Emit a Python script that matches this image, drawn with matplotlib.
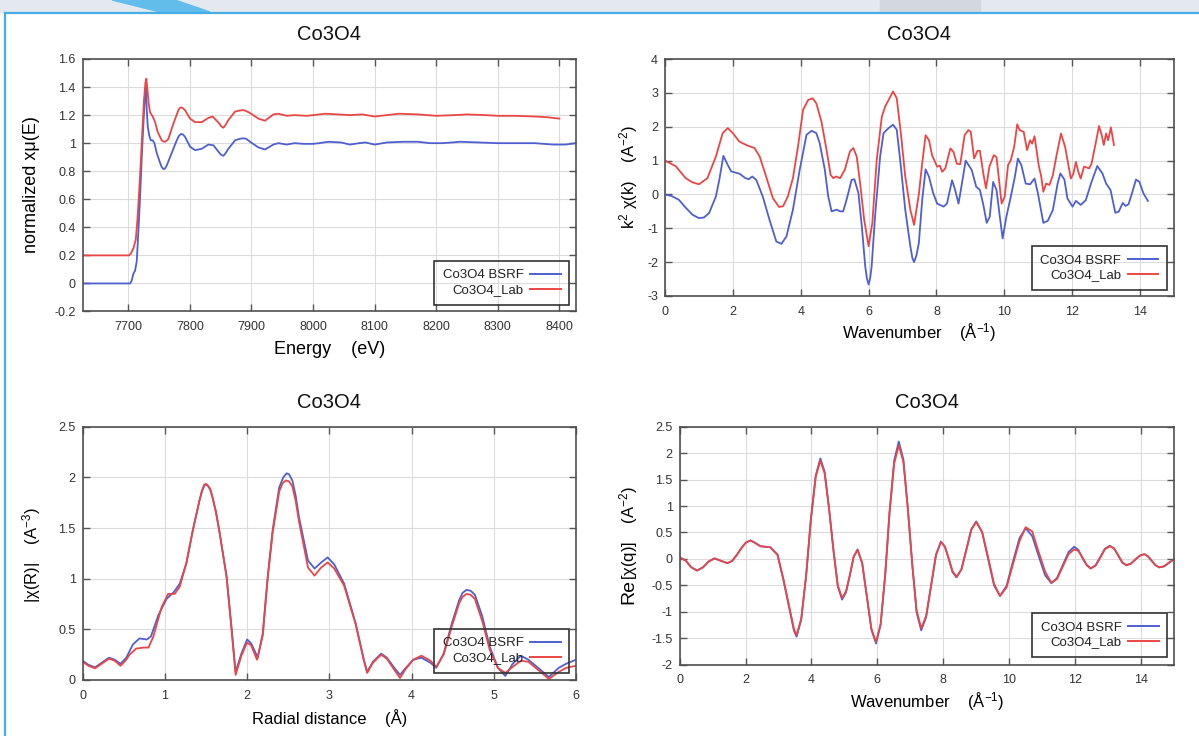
import matplotlib
matplotlib.use('Agg')
import matplotlib.pyplot as plt
from matplotlib.patches import Rectangle, Polygon
from matplotlib.lines import Line2D
from matplotlib.ticker import FuncFormatter

# ---------------- normalized mu(E), XANES ----------------
energy_bsrf = [7626, 7680, 7703, 7705.6, 7708.3, 7711, 7713.8, 7716.5, 7719.2, 7721.9,
               7724.6, 7726.7, 7728.4, 7730, 7731.6, 7733.8, 7736.5, 7739.7, 7742.4, 7746.2,
               7751.6, 7754.3, 7757, 7759.7, 7762.4, 7770.5, 7778.7, 7782, 7785.2, 7788.5,
               7792.2, 7800.3, 7808.4, 7819.3, 7830, 7838.2, 7849, 7851.5, 7854.4, 7857.5,
               7862.5, 7873.4, 7880, 7886.9, 7892, 7897.7, 7911.2, 7922, 7935.6, 7943.7,
               7957.3, 7970, 7985, 8000, 8010, 8025, 8045, 8060, 8075, 8085,
               8100, 8120, 8145, 8170, 8190, 8210, 8240, 8270, 8300, 8330,
               8360, 8390, 8410, 8427]
mu_bsrf = [0.0, 0.0, 0.0, 0.02, 0.07, 0.09, 0.16, 0.38, 0.62, 0.90,
           1.14, 1.31, 1.40, 1.24, 1.12, 1.06, 1.02, 1.02, 1.00, 0.93,
           0.86, 0.83, 0.815, 0.82, 0.84, 0.93, 1.02, 1.05, 1.065, 1.063,
           1.045, 0.975, 0.95, 0.96, 0.99, 0.985, 0.925, 0.915, 0.91, 0.925,
           0.96, 1.02, 1.03, 1.035, 1.03, 1.01, 0.97, 0.955, 0.99, 1.0,
           0.99, 1.0, 0.995, 0.995, 1.0, 1.01, 1.005, 0.99, 1.0, 1.005,
           0.99, 1.005, 1.01, 1.01, 1.0, 1.0, 1.01, 1.005, 1.0, 1.0,
           1.0, 0.99, 0.99, 1.0]

energy_lab = [7626, 7680, 7698, 7701, 7703.8, 7708.3, 7712.1, 7714.8, 7717.5, 7720.2,
              7722.9, 7725.6, 7727.8, 7729.4, 7731.1, 7733.2, 7735.4, 7739.7, 7743.5, 7747.8,
              7754.3, 7757, 7759.7, 7762.4, 7765.1, 7773.3, 7781.4, 7783.5, 7785.7, 7788.5,
              7792.2, 7800.3, 7808.4, 7819.3, 7830, 7837, 7847.9, 7851, 7854.4, 7858,
              7862.5, 7873.4, 7880, 7886.9, 7892, 7897.7, 7911.2, 7922, 7935.6, 7943.7,
              7957.3, 7970, 7990, 8000, 8020, 8040, 8060, 8080, 8100, 8120,
              8140, 8170, 8200, 8230, 8250, 8280, 8300, 8330, 8360, 8380,
              8400]
mu_lab = [0.2, 0.2, 0.2, 0.2, 0.21, 0.25, 0.31, 0.45, 0.64, 0.855,
          1.09, 1.31, 1.43, 1.46, 1.38, 1.28, 1.22, 1.19, 1.15, 1.08,
          1.02, 1.012, 1.01, 1.018, 1.03, 1.14, 1.235, 1.25, 1.255, 1.25,
          1.235, 1.175, 1.15, 1.15, 1.18, 1.19, 1.14, 1.12, 1.11, 1.13,
          1.165, 1.225, 1.232, 1.236, 1.228, 1.215, 1.175, 1.16, 1.205, 1.21,
          1.195, 1.20, 1.195, 1.20, 1.21, 1.205, 1.20, 1.205, 1.19, 1.20,
          1.21, 1.205, 1.195, 1.20, 1.205, 1.20, 1.195, 1.195, 1.19, 1.185,
          1.175]

# ---------------- k^2 chi(k) ----------------
k_bsrf = [0, 0.2, 0.41, 0.6, 0.81, 1.0, 1.15, 1.3, 1.5, 1.6,
          1.72, 1.85, 1.95, 2.2, 2.37, 2.47, 2.57, 2.69, 2.88, 3.08,
          3.28, 3.43, 3.58, 3.77, 3.97, 4.17, 4.32, 4.46, 4.56, 4.71,
          4.81, 4.91, 5.06, 5.16, 5.25, 5.35, 5.5, 5.58, 5.7, 5.8,
          5.9, 5.95, 6.0, 6.05, 6.09, 6.19, 6.34, 6.44, 6.59, 6.72,
          6.83, 6.93, 7.08, 7.23, 7.29, 7.34, 7.41, 7.48, 7.58, 7.68,
          7.78, 7.9, 8.02, 8.21, 8.31, 8.46, 8.55, 8.65, 8.75, 8.86,
          9.04, 9.17, 9.28, 9.38, 9.48, 9.57, 9.67, 9.77, 9.86, 9.95,
          10.06, 10.19, 10.31, 10.4, 10.5, 10.63, 10.76, 10.89, 10.99, 11.15,
          11.28, 11.43, 11.57, 11.65, 11.77, 11.86, 12.01, 12.11, 12.25, 12.4,
          12.57, 12.74, 12.89, 13.0, 13.13, 13.27, 13.37, 13.49, 13.57, 13.66,
          13.76, 13.88, 13.98, 14.1, 14.23]
chik_bsrf = [0, -0.05, -0.16, -0.38, -0.6, -0.70, -0.68, -0.55, -0.06, 0.43,
             1.14, 0.87, 0.68, 0.61, 0.48, 0.45, 0.53, 0.43, -0.06, -0.75,
             -1.39, -1.46, -1.24, -0.45, 0.73, 1.76, 1.88, 1.81, 1.51, 0.73,
             -0.06, -0.5, -0.45, -0.5, -0.5, -0.16, 0.43, 0.45, 0.04, -0.94,
             -2.12, -2.48, -2.66, -2.45, -2.12, -0.65, 1.12, 1.81, 1.96, 2.06,
             1.91, 1.02, -0.45, -1.53, -1.88, -2.0, -1.8, -1.44, -0.16, 0.74,
             0.52, 0.05, -0.27, -0.36, -0.27, 0.42, 0.13, -0.27, 0.32, 1.0,
             0.72, 0.23, 0.13, -0.3, -0.84, -0.66, 0.37, 0.13, -0.6, -1.30,
             -0.66, -0.07, 0.52, 1.06, 0.87, 0.32, 0.30, 0.47, 0.03, -0.84,
             -0.78, -0.46, 0.32, 0.62, 0.44, -0.12, -0.36, -0.19, -0.31, -0.17,
             0.37, 0.84, 0.62, 0.32, 0.13, -0.54, -0.51, -0.25, -0.34, -0.29,
             0.03, 0.44, 0.37, 0.03, -0.19]

k_lab = [0, 0.32, 0.61, 0.8, 1.0, 1.25, 1.5, 1.7, 1.85, 2.0,
         2.19, 2.44, 2.64, 2.79, 2.98, 3.18, 3.36, 3.48, 3.62, 3.77,
         3.92, 4.07, 4.22, 4.35, 4.46, 4.61, 4.76, 4.88, 4.96, 5.04,
         5.16, 5.3, 5.45, 5.55, 5.65, 5.75, 5.87, 6.0, 6.11, 6.24,
         6.39, 6.49, 6.59, 6.72, 6.83, 6.95, 7.08, 7.23, 7.34, 7.48,
         7.58, 7.68, 7.78, 7.87, 8.02, 8.1, 8.17, 8.26, 8.41, 8.5,
         8.6, 8.7, 8.83, 8.94, 9.01, 9.11, 9.21, 9.28, 9.38, 9.46,
         9.56, 9.69, 9.77, 9.92, 10.01, 10.11, 10.19, 10.29, 10.38, 10.45,
         10.57, 10.67, 10.76, 10.82, 10.89, 11.02, 11.08, 11.15, 11.23, 11.33,
         11.43, 11.54, 11.67, 11.79, 11.88, 11.96, 12.03, 12.11, 12.18, 12.25,
         12.35, 12.5, 12.57, 12.69, 12.79, 12.87, 12.93, 13.0, 13.06, 13.14,
         13.23]
chik_lab = [1.0, 0.83, 0.48, 0.36, 0.30, 0.48, 1.12, 1.81, 1.96, 1.81,
            1.56, 1.44, 1.37, 1.12, 0.53, -0.11, -0.37, -0.35, -0.06, 0.48,
            1.42, 2.5, 2.79, 2.84, 2.69, 2.15, 1.32, 0.58, 0.48, 0.53,
            0.48, 0.73, 1.27, 1.37, 1.12, 0.33, -0.75, -1.53, -0.84, 1.02,
            2.3, 2.6, 2.79, 3.04, 2.84, 1.81, 0.53, -0.45, -0.90, 0.0,
            0.92, 1.75, 1.6, 1.16, 0.82, 0.85, 0.67, 0.77, 1.36, 1.26,
            0.91, 0.89, 1.75, 1.90, 1.85, 1.06, 1.29, 1.29, 0.62, 0.18,
            0.82, 1.16, 1.10, -0.27, -0.07, 0.87, 1.01, 1.41, 2.07, 1.90,
            1.85, 1.31, 1.60, 1.50, 1.72, 0.82, 0.57, 0.08, 0.32, 0.28,
            0.57, 1.16, 1.80, 1.41, 0.91, 0.47, 0.60, 0.96, 0.67, 0.47,
            0.82, 0.77, 0.91, 1.50, 2.02, 1.75, 1.46, 1.80, 1.60, 1.98,
            1.46]

# ---------------- |chi(R)| ----------------
r_bsrf = [0, 0.07, 0.15, 0.23, 0.32, 0.39, 0.46, 0.53, 0.61, 0.69,
          0.78, 0.83, 0.92, 1.02, 1.11, 1.18, 1.26, 1.34, 1.42, 1.45,
          1.48, 1.50, 1.52, 1.55, 1.58, 1.62, 1.66, 1.75, 1.81, 1.86,
          1.93, 2.0, 2.05, 2.13, 2.19, 2.25, 2.31, 2.39, 2.44, 2.48,
          2.51, 2.55, 2.59, 2.63, 2.74, 2.82, 2.9, 2.98, 3.06, 3.18,
          3.32, 3.42, 3.46, 3.53, 3.63, 3.70, 3.79, 3.86, 3.93, 4.02,
          4.12, 4.23, 4.30, 4.39, 4.49, 4.58, 4.62, 4.67, 4.72, 4.77,
          4.86, 4.95, 5.05, 5.14, 5.23, 5.33, 5.42, 5.54, 5.67, 5.79,
          5.88, 6.0]
chir_bsrf = [0.19, 0.15, 0.125, 0.17, 0.22, 0.20, 0.16, 0.22, 0.35, 0.41,
             0.40, 0.43, 0.64, 0.80, 0.87, 0.95, 1.15, 1.48, 1.77, 1.86,
             1.92, 1.93, 1.92, 1.88, 1.80, 1.66, 1.48, 1.02, 0.52, 0.08,
             0.26, 0.40, 0.36, 0.22, 0.46, 1.02, 1.48, 1.90, 2.00, 2.04,
             2.03, 1.97, 1.82, 1.61, 1.18, 1.10, 1.16, 1.21, 1.14, 0.95,
             0.56, 0.20, 0.08, 0.18, 0.26, 0.22, 0.12, 0.05, 0.12, 0.20,
             0.22, 0.17, 0.12, 0.26, 0.56, 0.79, 0.86, 0.89, 0.88, 0.84,
             0.63, 0.33, 0.12, 0.04, 0.16, 0.24, 0.20, 0.12, 0.03, 0.12,
             0.16, 0.20]

r_lab = [0, 0.07, 0.15, 0.23, 0.32, 0.39, 0.46, 0.53, 0.57, 0.65,
         0.74, 0.80, 0.86, 0.96, 1.04, 1.12, 1.18, 1.26, 1.34, 1.42,
         1.45, 1.48, 1.50, 1.52, 1.55, 1.58, 1.62, 1.66, 1.75, 1.81,
         1.86, 1.93, 2.0, 2.05, 2.12, 2.19, 2.25, 2.31, 2.39, 2.43,
         2.47, 2.51, 2.55, 2.59, 2.63, 2.74, 2.82, 2.9, 2.98, 3.06,
         3.18, 3.32, 3.42, 3.46, 3.53, 3.63, 3.70, 3.79, 3.86, 3.93,
         4.02, 4.12, 4.23, 4.30, 4.39, 4.49, 4.58, 4.62, 4.67, 4.72,
         4.77, 4.86, 4.95, 5.05, 5.14, 5.23, 5.33, 5.42, 5.54, 5.67,
         5.79, 5.88, 6.0]
chir_lab = [0.18, 0.14, 0.115, 0.16, 0.21, 0.19, 0.14, 0.20, 0.25, 0.31,
            0.32, 0.32, 0.43, 0.72, 0.85, 0.85, 0.92, 1.15, 1.48, 1.77,
            1.87, 1.93, 1.935, 1.92, 1.89, 1.80, 1.66, 1.48, 1.02, 0.50,
            0.05, 0.24, 0.37, 0.34, 0.20, 0.44, 1.0, 1.45, 1.86, 1.94,
            1.97, 1.96, 1.91, 1.77, 1.57, 1.11, 1.03, 1.11, 1.16, 1.10,
            0.93, 0.55, 0.19, 0.07, 0.17, 0.25, 0.21, 0.10, 0.02, 0.11,
            0.20, 0.24, 0.19, 0.13, 0.25, 0.53, 0.76, 0.82, 0.85, 0.84,
            0.80, 0.58, 0.30, 0.12, 0.07, 0.13, 0.19, 0.18, 0.10, 0.01,
            0.08, 0.12, 0.14]

# ---------------- Re[chi(q)] ----------------
q_grid = [0, 0.18, 0.36, 0.53, 0.71, 0.88, 1.06, 1.25, 1.45, 1.59,
          1.73, 1.87, 2.01, 2.15, 2.3, 2.45, 2.6, 2.75, 2.97, 3.15,
          3.38, 3.47, 3.55, 3.69, 3.84, 3.98, 4.13, 4.27, 4.40, 4.53,
          4.67, 4.80, 4.93, 5.05, 5.17, 5.28, 5.40, 5.54, 5.68, 5.82,
          5.96, 6.10, 6.24, 6.37, 6.51, 6.65, 6.79, 6.92, 7.06, 7.19,
          7.33, 7.48, 7.63, 7.78, 7.93, 8.05, 8.17, 8.28, 8.40, 8.55,
          8.70, 8.85, 9.0, 9.18, 9.36, 9.54, 9.72, 9.92, 10.11, 10.31,
          10.5, 10.7, 10.89, 11.09, 11.28, 11.45, 11.63, 11.8, 11.97, 12.1,
          12.22, 12.35, 12.47, 12.62, 12.76, 12.9, 13.05, 13.18, 13.3, 13.43,
          13.55, 13.69, 13.83, 13.96, 14.1, 14.21, 14.33, 14.44, 14.55, 14.7,
          14.85, 15.0]
chiq_bsrf = [0.03, -0.03, -0.16, -0.22, -0.16, -0.05, 0.01, -0.035, -0.08, -0.04,
             0.07, 0.20, 0.31, 0.35, 0.30, 0.24, 0.23, 0.22, 0.08, -0.40,
             -1.09, -1.36, -1.47, -1.15, -0.31, 0.74, 1.58, 1.90, 1.65, 0.98,
             0.15, -0.52, -0.77, -0.63, -0.30, 0.04, 0.18, -0.08, -0.71, -1.34,
             -1.60, -1.24, -0.28, 0.90, 1.86, 2.22, 1.88, 0.99, -0.12, -1.01,
             -1.35, -1.10, -0.51, 0.08, 0.33, 0.23, -0.01, -0.25, -0.35, -0.20,
             0.18, 0.56, 0.71, 0.50, 0.0, -0.50, -0.70, -0.51, -0.06, 0.39,
             0.58, 0.43, 0.06, -0.31, -0.46, -0.36, -0.11, 0.13, 0.23, 0.17,
             0.02, -0.12, -0.18, -0.12, 0.03, 0.19, 0.25, 0.20, 0.07, -0.07,
             -0.12, -0.09, -0.01, 0.06, 0.09, 0.05, -0.04, -0.12, -0.16, -0.14,
             -0.07, -0.01]
chiq_lab = [0.03, -0.03, -0.16, -0.22, -0.16, -0.05, 0.01, -0.035, -0.08, -0.04,
            0.07, 0.20, 0.31, 0.35, 0.30, 0.24, 0.23, 0.22, 0.08, -0.38,
            -1.06, -1.33, -1.44, -1.13, -0.31, 0.72, 1.55, 1.86, 1.62, 0.97,
            0.16, -0.50, -0.74, -0.61, -0.29, 0.04, 0.17, -0.08, -0.70, -1.32,
            -1.57, -1.23, -0.29, 0.86, 1.80, 2.15, 1.83, 0.98, -0.10, -0.97,
            -1.31, -1.08, -0.50, 0.08, 0.32, 0.23, 0.0, -0.23, -0.34, -0.20,
            0.17, 0.55, 0.70, 0.51, 0.03, -0.47, -0.70, -0.54, -0.11, 0.33,
            0.60, 0.52, 0.14, -0.24, -0.45, -0.38, -0.14, 0.09, 0.18, 0.15,
            0.03, -0.11, -0.18, -0.13, 0.02, 0.18, 0.24, 0.20, 0.08, -0.06,
            -0.12, -0.09, -0.01, 0.06, 0.09, 0.05, -0.04, -0.12, -0.16, -0.14,
            -0.07, -0.01]

series_names = ['Co3O4 BSRF', 'Co3O4_Lab']
title = 'Co3O4'

W, H = 1199, 736
BLUE = '#4f5fd2'
RED = '#ea4646'


def fig_xy(x, y):
    # pixel position (from top left) -> figure fraction
    return x / W, 1 - y / H


def add_axes_px(fig, left, top, right, bottom):
    return fig.add_axes([left / W, 1 - bottom / H, (right - left) / W, (bottom - top) / H])


def style(ax, xlim, ylim, xticks, yticks):
    ax.set_xlim(*xlim)
    ax.set_ylim(*ylim)
    ax.set_xticks(xticks)
    ax.set_yticks(yticks)
    fmt = FuncFormatter(lambda v, p: f'{round(v, 6) + 0:g}')
    ax.xaxis.set_major_formatter(fmt)
    ax.yaxis.set_major_formatter(fmt)
    ax.tick_params(direction='in', length=5, width=1.0, color='#555555',
                   labelsize=9, labelcolor='#333333', top=True, right=True)
    ax.tick_params(axis='x', pad=7)
    ax.tick_params(axis='y', pad=5)
    ax.grid(True, color='#dcdcdc', linewidth=0.8)
    ax.set_axisbelow(True)
    for s in ax.spines.values():
        s.set_color('#505050')
        s.set_linewidth(1.2)
    ax.set_title(title, fontsize=14.5, pad=13.5, color='#111111')


def add_legend(ax, anchor):
    handles = [Line2D([], [], color=BLUE, lw=1.4), Line2D([], [], color=RED, lw=1.4)]
    leg = ax.legend(handles, series_names, loc='lower right', bbox_to_anchor=anchor,
                    borderaxespad=0, markerfirst=False, fancybox=False,
                    facecolor='none', edgecolor='#333333', framealpha=1,
                    fontsize=9.5, handlelength=2.3, handletextpad=0.5,
                    labelspacing=0.2, borderpad=0.65)
    leg.get_frame().set_linewidth(1.2)
    for t in leg.get_texts():
        t.set_color('#222222')


def make_plot():
    plt.rcParams['font.family'] = ['Liberation Sans', 'DejaVu Sans']
    plt.rcParams['mathtext.fontset'] = 'custom'
    plt.rcParams['mathtext.rm'] = 'Liberation Sans'
    plt.rcParams['mathtext.it'] = 'Liberation Sans:italic'
    plt.rcParams['mathtext.bf'] = 'Liberation Sans:bold'
    plt.rcParams['axes.unicode_minus'] = False

    fig = plt.figure(figsize=(W / 100, H / 100), dpi=100)
    fig.patch.set_facecolor('white')

    # slide decoration: top strip and thin blue frame lines
    fig.add_artist(Rectangle((0, 1 - 12 / H), 1, 12 / H, transform=fig.transFigure,
                             color='#e3e9ee', zorder=0))
    fig.add_artist(Rectangle((880 / W, 1 - 12 / H), 100 / W, 12 / H, transform=fig.transFigure,
                             color='#d2d8dd', zorder=0))
    fig.add_artist(Polygon([fig_xy(112, 0), fig_xy(175, 0), fig_xy(210, 12), fig_xy(160, 12)],
                           closed=True, transform=fig.transFigure, color='#62bdea', zorder=0))
    fig.add_artist(Line2D([5 / W, 1], [1 - 13 / H, 1 - 13 / H], transform=fig.transFigure,
                          color='#45aee6', lw=1.6))
    fig.add_artist(Line2D([5 / W, 5 / W], [0, 1 - 13 / H], transform=fig.transFigure,
                          color='#45aee6', lw=1.6))

    # top left: normalized mu(E)
    ax1 = add_axes_px(fig, 82.7, 59, 576, 311.5)
    ax1.plot(energy_bsrf, mu_bsrf, color=BLUE, lw=1.3)
    ax1.plot(energy_lab, mu_lab, color=RED, lw=1.3)
    style(ax1, (7626, 8427), (-0.2, 1.6), list(range(7700, 8401, 100)),
          [-0.2, 0, 0.2, 0.4, 0.6, 0.8, 1, 1.2, 1.4, 1.6])
    add_legend(ax1, (0.986, 0.026))
    fig.text(*fig_xy(330, 349), 'Energy    (eV)', fontsize=13, ha='center', va='center')
    fig.text(*fig_xy(31.8, 185), 'normalized xμ(E)', fontsize=13, rotation=90,
             ha='center', va='center')

    # top right: k^2 chi(k)
    ax2 = add_axes_px(fig, 665, 59, 1174, 296)
    ax2.plot(k_bsrf, chik_bsrf, color=BLUE, lw=1.3)
    ax2.plot(k_lab, chik_lab, color=RED, lw=1.3)
    style(ax2, (0, 15), (-3, 4), list(range(0, 15, 2)), list(range(-3, 5)))
    add_legend(ax2, (0.986, 0.025))
    fig.text(*fig_xy(919.5, 333), 'Wavenumber    (Å$^{-1}$)', fontsize=12, ha='center', va='center')
    fig.text(*fig_xy(628.7, 177), 'k$^{2}$ χ(k)    (A$^{-2}$)', fontsize=12, rotation=90,
             ha='center', va='center')

    # bottom left: |chi(R)|
    ax3 = add_axes_px(fig, 82.7, 426.7, 576, 680)
    ax3.plot(r_bsrf, chir_bsrf, color=BLUE, lw=1.3)
    ax3.plot(r_lab, chir_lab, color=RED, lw=1.3)
    style(ax3, (0, 6), (0, 2.5), list(range(0, 7)), [0, 0.5, 1, 1.5, 2, 2.5])
    add_legend(ax3, (0.986, 0.028))
    fig.text(*fig_xy(330, 718), 'Radial distance    (Å)', fontsize=12, ha='center', va='center')
    fig.text(*fig_xy(31.8, 555), '|χ(R)|    (A$^{-3}$)', fontsize=12, rotation=90,
             ha='center', va='center')

    # bottom right: Re[chi(q)]
    ax4 = add_axes_px(fig, 679.6, 426.7, 1174, 664.7)
    ax4.plot(q_grid, chiq_bsrf, color=BLUE, lw=1.3)
    ax4.plot(q_grid, chiq_lab, color=RED, lw=1.3)
    style(ax4, (0, 15), (-2, 2.5), list(range(0, 15, 2)),
          [-2, -1.5, -1, -0.5, 0, 0.5, 1, 1.5, 2, 2.5])
    add_legend(ax4, (0.986, 0.032))
    fig.text(*fig_xy(927, 702), 'Wavenumber    (Å$^{-1}$)', fontsize=12, ha='center', va='center')
    fig.text(*fig_xy(628.7, 604), 'Re', fontsize=14, rotation=90, ha='center', va='bottom')
    fig.text(*fig_xy(628.7, 580.5), '[χ(q)]    (A$^{-2}$)', fontsize=12, rotation=90,
             ha='center', va='bottom')

    fig.savefig('out.png', dpi=100)


if __name__ == '__main__':
    make_plot()
